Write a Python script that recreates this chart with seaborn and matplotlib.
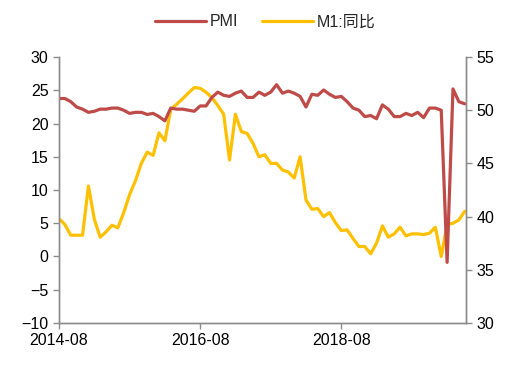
import pandas as pd
import numpy as np
import matplotlib
matplotlib.use("Agg")
import matplotlib.pyplot as plt
import seaborn as sns

# monthly data 2014-08 .. 2020-05
months = pd.date_range("2014-08-01", "2020-05-01", freq="MS").strftime("%Y-%m").tolist()

pmi = [51.1, 51.1, 50.8, 50.3, 50.1,
       49.8, 49.9, 50.1, 50.1, 50.2, 50.2, 50.0, 49.7, 49.8, 49.8, 49.6, 49.7,
       49.4, 49.0, 50.2, 50.1, 50.1, 50.0, 49.9, 50.4, 50.4, 51.2, 51.7, 51.4,
       51.3, 51.6, 51.8, 51.2, 51.2, 51.7, 51.4, 51.7, 52.4, 51.6, 51.8, 51.6,
       51.3, 50.3, 51.5, 51.4, 51.9, 51.5, 51.2, 51.3, 50.8, 50.2, 50.0, 49.4,
       49.5, 49.2, 50.5, 50.1, 49.4, 49.4, 49.7, 49.5, 49.8, 49.3, 50.2, 50.2,
       50.0, 35.7, 52.0, 50.8, 50.6]

m1_yoy = [5.7, 4.8, 3.2, 3.2, 3.2,
          10.6, 5.6, 2.9, 3.7, 4.7, 4.3, 6.6, 9.3, 11.4, 14.0, 15.7, 15.2,
          18.6, 17.4, 22.1, 22.9, 23.7, 24.6, 25.4, 25.3, 24.7, 23.9, 22.7, 21.4,
          14.5, 21.4, 18.8, 18.5, 17.0, 15.0, 15.3, 14.0, 14.0, 13.0, 12.7, 11.8,
          15.0, 8.5, 7.1, 7.2, 6.0, 6.6, 5.1, 3.9, 4.0, 2.7, 1.5, 1.5,
          0.4, 2.0, 4.6, 2.9, 3.4, 4.4, 3.1, 3.4, 3.4, 3.3, 3.5, 4.4,
          0.0, 4.8, 5.0, 5.5, 6.8]

tick_labels = ["2014-08", "2016-08", "2018-08"]

df = pd.DataFrame({"month": months, "idx": np.arange(len(months)),
                   "PMI": pmi, "M1": m1_yoy})

sns.set_theme(style="white")
plt.rcParams["font.family"] = ["Liberation Sans", "Noto Sans CJK SC", "DejaVu Sans"]

red = "#BE4B48"
yellow = "#FFC000"
gray = "#8C8C8C"

fig = plt.figure(figsize=(5.2, 3.69), dpi=100)
ax = fig.add_axes([0.1135, 0.1247, 0.7825, 0.7208])
ax2 = ax.twinx()

sns.lineplot(data=df, x="idx", y="M1", ax=ax, color=yellow, linewidth=2.3, label="M1:同比", legend=False)
sns.lineplot(data=df, x="idx", y="PMI", ax=ax2, color=red, linewidth=2.3, label="PMI", legend=False)

ax.set_ylim(-10, 30)
ax.set_yticks(range(-10, 31, 5))
ax2.set_ylim(30, 55)
ax2.set_yticks(range(30, 56, 5))
ax.set_xlim(0, 69.2)
ax.set_xticks([months.index(t) for t in tick_labels])
ax.set_xticklabels(tick_labels)
ax.set_xlabel("")
ax.set_ylabel("")
ax2.set_ylabel("")

for a in (ax, ax2):
    for s in a.spines.values():
        s.set_color(gray)
        s.set_linewidth(1)
    a.spines["top"].set_visible(False)
    a.tick_params(colors=gray, labelcolor="black", labelsize=11.5, length=4, width=1)
ax.tick_params(axis="y", left=True, direction="out")
ax.tick_params(axis="x", bottom=True, direction="out", pad=3)
ax2.tick_params(axis="y", right=True, direction="out")
ax.grid(False)
ax2.grid(False)

h1, l1 = ax2.get_legend_handles_labels()
h2, l2 = ax.get_legend_handles_labels()
fig.legend(h1 + h2, l1 + l2, loc="upper center", bbox_to_anchor=(0.51, 1.0),
           ncol=2, frameon=False, fontsize=11.5, handlelength=3.2, columnspacing=1.5,
           handletextpad=0.2)

fig.savefig("out.png", dpi=100)
